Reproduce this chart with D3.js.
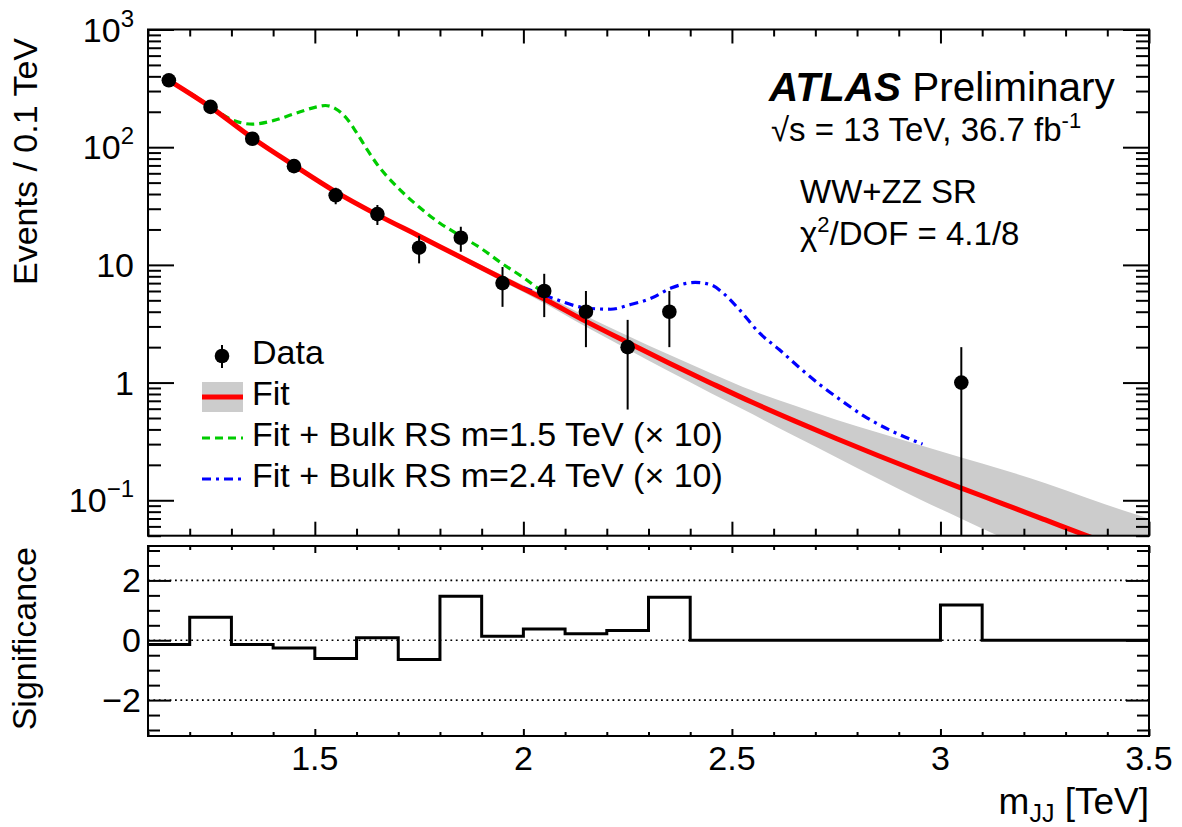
<!DOCTYPE html>
<html><head><meta charset="utf-8">
<script src="https://cdn.jsdelivr.net/npm/d3@7"></script>
<style>
body{margin:0;background:#fff;}
svg text{font-family:"Liberation Sans",Arial,Helvetica,sans-serif;fill:#000;}
</style></head><body>
<svg id="c" width="1182" height="827"></svg>
<script>
// ---------------- data ----------------
const dataMass   = [1.15,1.25,1.35,1.45,1.55,1.65,1.75,1.85,1.95,2.05,2.15,2.25,2.35,3.05];
const dataEvents = [370,220,118,69,39,27,14,17,7,6,4,2,4,1];
const dataErr    = [19.2,14.8,10.9,8.3,6.2,5.2,3.7,4.1,2.6,2.4,2.0,1.41,2.0,1.0];

const fitMass = [1.15,1.25,1.35,1.45,1.55,1.65,1.75,1.85,1.95,2.05,2.15,2.25,2.35,2.45,2.55,2.65,2.75,2.85,2.95,3.05,3.15,3.25,3.35,3.45,3.5];
const fitVal  = [370,219,120,70.0,41.7,26.6,17.6,11.6,7.67,5.13,3.31,2.19,1.46,0.989,0.676,0.473,0.335,0.240,0.174,0.127,0.0933,0.0684,0.0501,0.0372,0.032];
const fitUp   = [387,229,125,72.7,43.2,27.5,18.3,12.15,8.15,5.56,3.67,2.50,1.72,1.20,0.851,0.638,0.484,0.376,0.295,0.231,0.182,0.140,0.105,0.0795,0.070];
const fitDown = [353,209,115,67.4,40.3,25.7,16.9,11.08,7.22,4.73,2.98,1.92,1.24,0.813,0.537,0.351,0.232,0.153,0.102,0.0698,0.0478,0.0335,0.0240,0.0174,0.0146];

const sig15Mass = [1.2,1.25,1.3,1.35,1.4,1.45,1.5,1.525,1.55,1.575,1.6,1.625,1.65,1.7,1.75,1.8,1.85,1.9,1.95,2.0,2.04];
const sig15Val  = [290,222,172,157,168,192,218,226,212,178,133,96,71,45,31,22.6,17.6,13.7,10.2,7.8,6.1];

const sig24Mass = [2.0,2.064,2.151,2.209,2.257,2.306,2.354,2.412,2.45,2.479,2.518,2.566,2.614,2.663,2.711,2.759,2.817,2.875,2.957];
const sig24Val  = [6.4,5.3,4.3,4.2,4.6,5.2,6.35,7.1,6.76,5.76,4.16,2.64,1.9,1.33,0.96,0.718,0.519,0.40,0.30];

const sigEdges  = [1.1,1.2,1.3,1.4,1.5,1.6,1.7,1.8,1.9,2.0,2.1,2.2,2.3,2.4,2.5,2.6,2.7,2.8,2.9,3.0,3.1,3.2,3.3,3.4,3.5];
const sigValues = [-0.14,0.77,-0.14,-0.26,-0.61,0.08,-0.64,1.47,0.13,0.38,0.22,0.33,1.44,0,0,0,0,0,0,1.18,0,0,0,0];

const xTickVals   = [1.5,2,2.5,3,3.5];
const xTickLabels = ["1.5","2","2.5","3","3.5"];
const yTopTickVals = [1000,100,10,1,0.1];
const yTopTickLabels = [["10","3"],["10","2"],["10",""],["1",""],["10","\u22121"]];
const yBotTickVals = [2,0,-2];
const yBotTickLabels = ["2","0","\u22122"];

const legendLabels = ["Data","Fit","Fit + Bulk RS m=1.5 TeV (\u00d7 10)","Fit + Bulk RS m=2.4 TeV (\u00d7 10)"];

// ---------------- layout ----------------
const L=148, R=1149, T1=29.5, B1=535.7, T2=546, B2=736;
const svg = d3.select("#c");
const x = d3.scaleLinear().domain([1.1,3.5]).range([L,R]);
const y = d3.scaleLog().domain([0.05,1000]).range([B1,T1]);
const ys = d3.scaleLinear().domain([-3.2,3.15]).range([B2,T2]);

svg.append("defs").append("clipPath").attr("id","clipTop")
  .append("rect").attr("x",L).attr("y",T1).attr("width",R-L).attr("height",B1-T1);

const RED="#ff0000", GREEN="#00cc00", BLUE="#0000ff", BAND="#cccccc";

// ---------------- top panel ----------------
const gTop = svg.append("g").attr("clip-path","url(#clipTop)");
const band = fitMass.map((m,i)=>({m,lo:fitDown[i],hi:fitUp[i]}));
gTop.append("path").datum(band)
  .attr("d", d3.area().x(d=>x(d.m)).y0(d=>y(d.lo)).y1(d=>y(d.hi)).curve(d3.curveMonotoneX))
  .attr("fill",BAND);

const lineLog = d3.line().curve(d3.curveMonotoneX);
gTop.append("path")
  .attr("d", lineLog(sig15Mass.map((m,i)=>[x(m),y(sig15Val[i])])))
  .attr("fill","none").attr("stroke",GREEN).attr("stroke-width",3.2).attr("stroke-dasharray","8,5");
gTop.append("path")
  .attr("d", lineLog(sig24Mass.map((m,i)=>[x(m),y(sig24Val[i])])))
  .attr("fill","none").attr("stroke",BLUE).attr("stroke-width",3.2).attr("stroke-dasharray","9,5,3,5");
gTop.append("path")
  .attr("d", lineLog(fitMass.map((m,i)=>[x(m),y(fitVal[i])])))
  .attr("fill","none").attr("stroke",RED).attr("stroke-width",5);

// data points
const pts = dataMass.map((m,i)=>({m,v:dataEvents[i],e:dataErr[i]}));
gTop.selectAll("line.err").data(pts).join("line").attr("class","err")
  .attr("x1",d=>x(d.m)).attr("x2",d=>x(d.m))
  .attr("y1",d=>y(d.v+d.e)).attr("y2",d=> d.v-d.e>0.05 ? y(d.v-d.e) : B1+2)
  .attr("stroke","#000").attr("stroke-width",2);
gTop.selectAll("circle.pt").data(pts).join("circle").attr("class","pt")
  .attr("cx",d=>x(d.m)).attr("cy",d=>y(d.v)).attr("r",7.3).attr("fill","#000");

// ---------------- bottom panel ----------------
const gBot = svg.append("g");
yBotTickVals.forEach(v=>{
  gBot.append("line").attr("x1",L).attr("x2",R).attr("y1",ys(v)).attr("y2",ys(v))
    .attr("stroke","#000").attr("stroke-width",1.6).attr("stroke-dasharray","1.8,3.6");
});
const stepPts = sigEdges.map((e,i)=>[x(e), ys(i<sigValues.length?sigValues[i]:sigValues[sigValues.length-1])]);
gBot.append("path").attr("d", d3.line().curve(d3.curveStepAfter)(stepPts))
  .attr("fill","none").attr("stroke","#000").attr("stroke-width",3);

// ---------------- axes ----------------
const xMinor = d3.range(11,36).map(d=>d/10).filter(v=>!xTickVals.some(t=>Math.abs(t-v)<1e-6));
function tickStyle(g){ g.select(".domain").remove(); g.selectAll("line").attr("stroke","#000").attr("stroke-width",2); g.selectAll("text").remove(); }
function xTicks(yPos, dir, major, minor){
  const ax = dir==="up" ? d3.axisTop : d3.axisBottom;
  svg.append("g").attr("transform",`translate(0,${yPos})`).call(ax(x).tickValues(xTickVals).tickSize(major).tickFormat("")).call(tickStyle);
  svg.append("g").attr("transform",`translate(0,${yPos})`).call(ax(x).tickValues(xMinor).tickSize(minor).tickFormat("")).call(tickStyle);
}
xTicks(B1,"up",14,7); xTicks(T1,"down",14,7);
xTicks(B2,"up",7,4); xTicks(T2,"down",7,4);

const yMinorTop = [];
[0.01,0.1,1,10,100].forEach(dec=>{ for(let k=2;k<=9;k++){ const v=k*dec; if(v>=0.05-1e-9 && v<=1000) yMinorTop.push(v);} });
function yTicks(scale, xPos, dir, majorVals, minorVals, major, minor){
  const ax = dir==="right" ? d3.axisRight : d3.axisLeft;
  svg.append("g").attr("transform",`translate(${xPos},0)`).call(ax(scale).tickValues(majorVals).tickSize(major).tickFormat("")).call(tickStyle);
  svg.append("g").attr("transform",`translate(${xPos},0)`).call(ax(scale).tickValues(minorVals).tickSize(minor).tickFormat("")).call(tickStyle);
}
yTicks(y,L,"right",yTopTickVals,yMinorTop,26,13);
yTicks(y,R,"left",yTopTickVals,yMinorTop,26,13);
const yMinorBot = [-3,-2.5,-1.5,-1,-0.5,0.5,1,1.5,2.5,3];
yTicks(ys,L,"right",yBotTickVals,yMinorBot,23,12);
yTicks(ys,R,"left",yBotTickVals,yMinorBot,23,12);

// frames
svg.append("rect").attr("x",L).attr("y",T1).attr("width",R-L).attr("height",B1-T1).attr("fill","none").attr("stroke","#000").attr("stroke-width",2);
svg.append("rect").attr("x",L).attr("y",T2).attr("width",R-L).attr("height",B2-T2).attr("fill","none").attr("stroke","#000").attr("stroke-width",2);

// tick labels
const FS=34;
yTopTickVals.forEach((v,i)=>{
  const t = svg.append("text").attr("x",134).attr("y",y(v)+12).attr("text-anchor","end").attr("font-size",FS);
  t.append("tspan").text(yTopTickLabels[i][0]);
  if(yTopTickLabels[i][1]) t.append("tspan").attr("dy",-15).attr("font-size",24).text(yTopTickLabels[i][1]);
});
yBotTickVals.forEach((v,i)=>{
  svg.append("text").attr("x",141).attr("y",ys(v)+12).attr("text-anchor","end").attr("font-size",FS).text(yBotTickLabels[i]);
});
xTickVals.forEach((v,i)=>{
  svg.append("text").attr("x",x(v)).attr("y",770).attr("text-anchor","middle").attr("font-size",FS).text(xTickLabels[i]);
});

// axis titles
svg.append("text").attr("transform","translate(37,38) rotate(-90)").attr("text-anchor","end").attr("font-size",FS).text("Events / 0.1 TeV");
svg.append("text").attr("transform","translate(36,547) rotate(-90)").attr("text-anchor","end").attr("font-size",FS).text("Significance");
const xt = svg.append("text").attr("x",R).attr("y",814).attr("text-anchor","end").attr("font-size",37);
xt.append("tspan").text("m");
xt.append("tspan").attr("dy",8).attr("font-size",25).text("JJ");
xt.append("tspan").attr("dy",-8).text(" [TeV]");

// ATLAS labels
const at = svg.append("text").attr("x",769).attr("y",101).attr("font-size",40.5);
at.append("tspan").attr("font-weight","bold").attr("font-style","italic").text("ATLAS");
at.append("tspan").text("\u00a0Preliminary");
const en = svg.append("text").attr("x",771).attr("y",141).attr("font-size",33);
en.append("tspan").text("\u221As = 13 TeV, 36.7 fb");
en.append("tspan").attr("dy",-13).attr("font-size",22).text("-1");
svg.append("text").attr("x",800).attr("y",203).attr("font-size",33).text("WW+ZZ SR");
const ch = svg.append("text").attr("x",800).attr("y",245).attr("font-size",33);
ch.append("tspan").text("\u03c7");
ch.append("tspan").attr("dy",-13).attr("font-size",22).text("2");
ch.append("tspan").attr("dy",13).text("/DOF = 4.1/8");

// legend
const lgX0=202, lgX1=243, lgTx=252;
const lgY=[356,397,438,479];
svg.append("line").attr("x1",222).attr("x2",222).attr("y1",lgY[0]-11).attr("y2",lgY[0]+12).attr("stroke","#000").attr("stroke-width",2);
svg.append("circle").attr("cx",222).attr("cy",lgY[0]).attr("r",7.3).attr("fill","#000");
svg.append("rect").attr("x",lgX0).attr("y",lgY[1]-15).attr("width",lgX1-lgX0).attr("height",30).attr("fill",BAND);
svg.append("line").attr("x1",lgX0).attr("x2",lgX1).attr("y1",lgY[1]).attr("y2",lgY[1]).attr("stroke",RED).attr("stroke-width",5);
svg.append("line").attr("x1",lgX0).attr("x2",lgX1).attr("y1",lgY[2]).attr("y2",lgY[2]).attr("stroke",GREEN).attr("stroke-width",3.2).attr("stroke-dasharray","8,5");
svg.append("line").attr("x1",lgX0).attr("x2",lgX1).attr("y1",lgY[3]).attr("y2",lgY[3]).attr("stroke",BLUE).attr("stroke-width",3.2).attr("stroke-dasharray","9,5,3,5");
legendLabels.forEach((t,i)=>{
  svg.append("text").attr("x",lgTx).attr("y",lgY[i]+8).attr("font-size",34).text(t);
});
</script>
</body></html>
